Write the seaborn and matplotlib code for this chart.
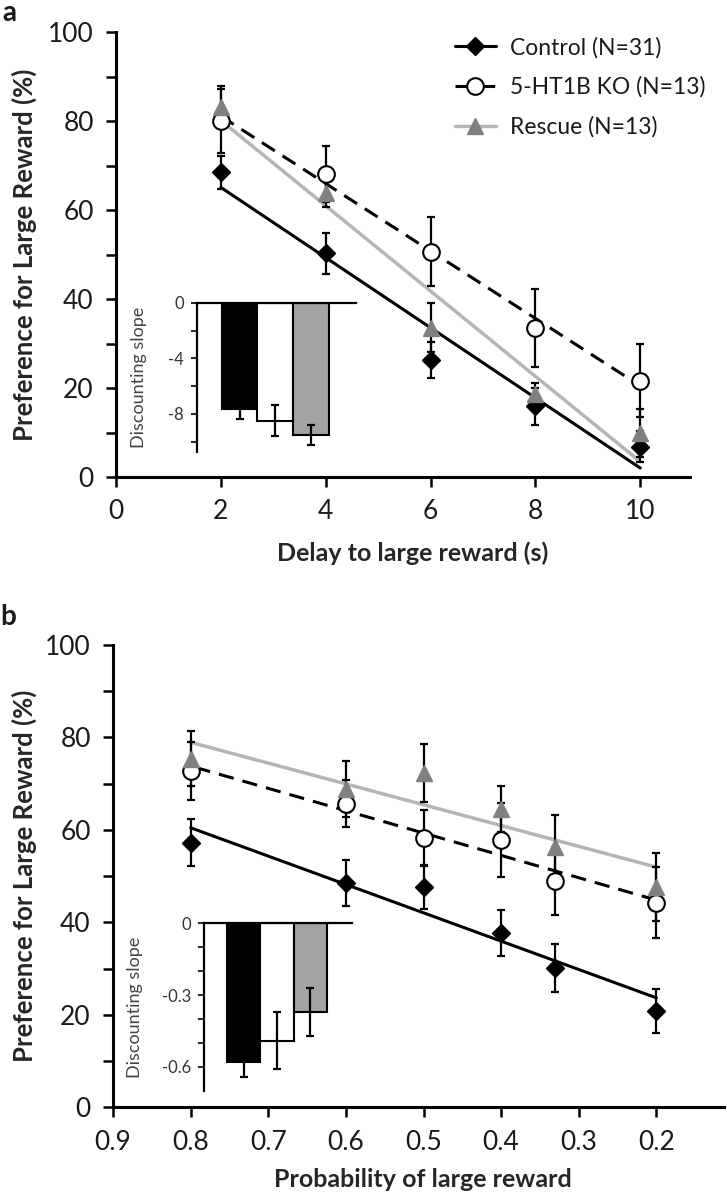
import numpy as np
import matplotlib.pyplot as plt
from matplotlib.lines import Line2D
import seaborn as sns

# panel a: delay discounting
delay_s = [2, 4, 6, 8, 10]
control_delay = [68.5, 50.3, 26.4, 15.9, 6.9]
control_delay_se = [3.7, 4.6, 4.0, 4.2, 3.4]
ko_delay = [80.1, 68.2, 50.7, 33.5, 21.7]
ko_delay_se = [7.2, 6.3, 7.7, 8.7, 8.2]
rescue_delay = [83.2, 63.8, 33.6, 18.6, 10.0]
rescue_delay_se = [4.6, 3.0, 5.5, 2.5, 5.4]

# panel b: probability discounting
prob = [0.8, 0.6, 0.5, 0.4, 0.33, 0.2]
control_prob = [57.2, 48.5, 47.7, 37.7, 30.1, 20.8]
control_prob_se = [5.1, 5.0, 4.8, 5.0, 5.2, 4.7]
ko_prob = [72.7, 65.7, 58.2, 57.8, 49.0, 44.3]
ko_prob_se = [6.3, 5.0, 6.1, 8.0, 7.4, 7.7]
rescue_prob = [75.4, 68.8, 72.3, 64.6, 56.2, 47.7]
rescue_prob_se = [5.9, 6.0, 6.2, 5.0, 7.0, 7.4]

# insets: discounting slopes
groups = ["Control", "5-HT1B KO", "Rescue"]
slope_delay = [-7.67, -8.49, -9.52]
slope_delay_se = [0.72, 1.1, 0.72]
slope_prob = [-0.579, -0.490, -0.370]
slope_prob_se = [0.064, 0.12, 0.10]

legend_labels = ["Control (N=31)", "5-HT1B KO (N=13)", "Rescue (N=13)"]

TEXT = "#1a1a1a"
RESCUE_MARK = "#808080"
RESCUE_LINE = "#b5b5b5"
BAR_COLOURS = ["#000000", "#ffffff", "#a3a3a3"]

STYLES = [
    dict(line=dict(color="black", lw=2.2, ls="-"),
         mark=dict(marker="D", ms=9.5, mfc="black", mec="black")),
    dict(line=dict(color="black", lw=2.2, ls=(0, (5, 3))),
         mark=dict(marker="o", ms=12, mfc="white", mec="black", mew=1.5)),
    dict(line=dict(color=RESCUE_LINE, lw=2.5, ls="-"),
         mark=dict(marker="^", ms=12, mfc=RESCUE_MARK, mec=RESCUE_MARK)),
]

sns.set_theme(style="ticks")
plt.rcParams["font.family"] = ["Lato", "DejaVu Sans"]
plt.rcParams["axes.unicode_minus"] = False
plt.rcParams["text.color"] = TEXT


def draw_series(ax, x, y, se, style):
    sns.regplot(x=np.array(x), y=np.array(y), ax=ax, ci=None, scatter=False,
                truncate=True, line_kws=style["line"])
    ax.errorbar(x, y, yerr=se, fmt="none", ecolor="black", elinewidth=1.6,
                capsize=3, capthick=1.6, zorder=3)
    ax.plot(x, y, ls="none", zorder=4, **style["mark"])


def style_main(ax, xlabel, xlabel_x, xlabel_y, ylabel_x):
    sns.despine(ax=ax)
    for side in ("left", "bottom"):
        ax.spines[side].set_linewidth(2.2)
        ax.spines[side].set_color("black")
    ax.set_ylim(0, 100)
    ax.set_yticks([0, 20, 40, 60, 80, 100])
    ax.set_yticks([10, 30, 50, 70, 90], minor=True)
    ax.tick_params(axis="both", which="both", direction="out", length=7,
                   width=1.8, pad=9, labelsize=19, colors="black",
                   labelcolor=TEXT)
    ax.set_xlabel(xlabel, fontsize=18, fontweight="bold")
    ax.set_ylabel("Preference for Large Reward (%)", fontsize=18.5,
                  fontweight="bold")
    ax.xaxis.set_label_coords(xlabel_x, xlabel_y)
    ax.yaxis.set_label_coords(ylabel_x, 0.5)


def draw_inset(ax, values, se, major, minor, fmt, ylim, label_x):
    sns.barplot(x=groups, y=values, hue=groups, palette=BAR_COLOURS,
                legend=False, width=1.0, edgecolor="black", linewidth=1.5,
                errorbar=None, ax=ax)
    ax.errorbar(range(len(values)), values, yerr=se, fmt="none",
                ecolor="black", elinewidth=1.6, capsize=3, capthick=1.6,
                zorder=5)
    ax.set_facecolor("none")
    ax.set_xlim(-1.2, 3.25)
    ax.set_ylim(*ylim)
    ax.set_xticks([])
    ax.set_xlabel("")
    ax.set_yticks(major)
    ax.set_yticks(minor, minor=True)
    ax.set_yticklabels([fmt.format(v) for v in major])
    for side in ("bottom", "right"):
        ax.spines[side].set_visible(False)
    for side in ("left", "top"):
        ax.spines[side].set_visible(True)
        ax.spines[side].set_linewidth(1.6)
        ax.spines[side].set_color("black")
    ax.tick_params(axis="y", which="both", direction="out", length=4,
                   width=1.2, pad=5, labelsize=12, colors="black",
                   labelcolor="#333333")
    ax.set_ylabel("Discounting slope", fontsize=13, color="#444444")
    ax.yaxis.set_label_coords(label_x, 0.5)


fig = plt.figure(figsize=(7.27, 11.97), dpi=100)
ax_a = fig.add_axes([0.1596, 0.6013, 0.7895, 0.3718])
ax_b = fig.add_axes([0.1554, 0.0749, 0.8404, 0.3863])

# panel a
for y, se, st in zip([control_delay, ko_delay, rescue_delay],
                     [control_delay_se, ko_delay_se, rescue_delay_se], STYLES):
    draw_series(ax_a, delay_s, y, se, st)
ax_a.set_xlim(0, 10.95)
ax_a.set_xticks([0, 2, 4, 6, 8, 10])
style_main(ax_a, "Delay to large reward (s)", 0.517, -0.145, -0.138)

handles = [Line2D([], [], **st["line"], **st["mark"]) for st in STYLES]
leg = ax_a.legend(handles, legend_labels, loc="upper left",
                  bbox_to_anchor=(0.59, 0.99), frameon=False, fontsize=16.5,
                  borderpad=0, borderaxespad=0, handlelength=1.8,
                  handletextpad=0.6, labelspacing=0.8)

# panel b
for y, se, st in zip([control_prob, ko_prob, rescue_prob],
                     [control_prob_se, ko_prob_se, rescue_prob_se], STYLES):
    draw_series(ax_b, prob, y, se, st)
ax_b.set_xlim(0.9, 0.113)
ax_b.set_xticks([0.9, 0.8, 0.7, 0.6, 0.5, 0.4, 0.3, 0.2])
ax_b.set_xticklabels(["0.9", "0.8", "0.7", "0.6", "0.5", "0.4", "0.3", "0.2"])
style_main(ax_b, "Probability of large reward", 0.507, -0.131, -0.124)

# insets
ins_a = fig.add_axes([0.2706, 0.6226, 0.2187, 0.1245])
draw_inset(ins_a, slope_delay, slope_delay_se, [0, -4, -8], [-2, -6, -10],
           "{:g}", (-10.72, 0), -0.31)
ins_b = fig.add_axes([0.2806, 0.0886, 0.2032, 0.1401])
draw_inset(ins_b, slope_prob, slope_prob_se, [0, -0.3, -0.6],
           [-0.1, -0.2, -0.4, -0.5], "{:g}", (-0.70, 0), -0.41)

fig.text(9 / 727, 1 - 13 / 1197, "a", fontsize=20, fontweight="bold",
         ha="center", va="center")
fig.text(8 / 727, 1 - 617 / 1197, "b", fontsize=20, fontweight="bold",
         ha="center", va="center")

fig.savefig("out.png", dpi=100)
